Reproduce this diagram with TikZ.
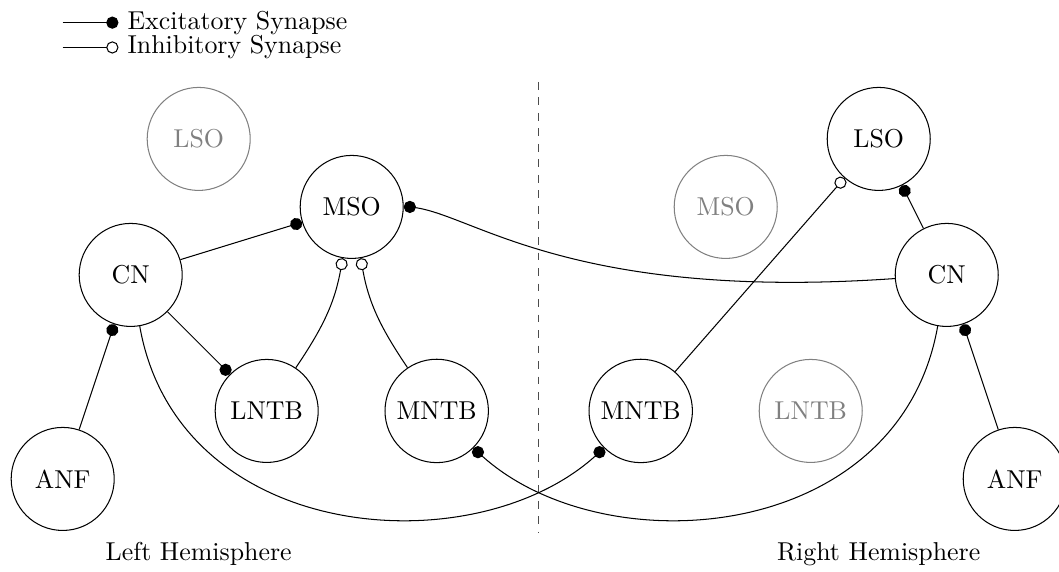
\documentclass[tikz,border=0pt]{standalone}
\usepackage{amsmath,amssymb}
\usepackage{tikz}
\usetikzlibrary{arrows}

\begin{document}
\begin{tikzpicture}[x=0.924cm,y=0.924cm,
  neuron/.style={shape=circle,draw=black,minimum size=1.4cm},
  faded/.style={shape=circle,draw=gray,text=gray,minimum size=1.4cm},
  exc/.style={-*},
  inh/.style={-o}]
\useasboundingbox (-1.922,4.043) rectangle (13.651,-4.355);
% legend
\draw[exc] (-1,3.71) -- (-0.18,3.71) node[right] (exclabel) {Excitatory Synapse};
\draw[inh] (-1,3.345) -- (-0.18,3.345) node[right] (inhlabel) {Inhibitory Synapse};
% left hemisphere
\node[neuron] (CNL) at (0,0) {CN};
\node[faded] (LSOL) at (1,2) {LSO};
\node[neuron] (MSOL) at (3.25,1) {MSO};
\node[neuron] (LNTBL) at (2,-2) {LNTB};
\node[neuron] (MNTBL) at (4.5,-2) {MNTB};
\node[neuron] (ANFL) at (-1,-3) {ANF};
% right hemisphere
\node[neuron] (CNR) at (12,0) {CN};
\node[neuron] (LSOR) at (11,2) {LSO};
\node[faded] (MSOR) at (8.75,1) {MSO};
\node[neuron] (MNTBR) at (7.5,-2) {MNTB};
\node[faded] (LNTBR) at (10,-2) {LNTB};
\node[neuron] (ANFR) at (13,-3) {ANF};
\draw[dashed,black!70] (6,2.84) -- (6,-3.8);
\node (lefthemi) at (1,-4.1) {Left Hemisphere};
\node (righthemi) at (11,-4.1) {Right Hemisphere};
% synapses
\draw[exc] (ANFL) -- (CNL);
\draw[exc] (CNL) -- (MSOL);
\draw[exc] (CNL) -- (LNTBL);
\draw[inh] (LNTBL) to[out=56,in=-100] (MSOL);
\draw[inh] (MNTBL) to[out=124,in=-80] (MSOL);
\draw[exc] (CNR) to[out=184,in=0,out looseness=1.75,in looseness=0.32] (MSOL);
\draw[exc] (CNL) to[out=-80,in=-135,out looseness=1.2,in looseness=0.9] (MNTBR);
\draw[exc] (CNR) to[out=-100,in=-45,out looseness=1.2,in looseness=0.9] (MNTBL);
\draw[exc] (ANFR) -- (CNR);
\draw[exc] (CNR) -- (LSOR);
\draw[inh] (MNTBR) -- (LSOR);
\end{tikzpicture}
\end{document}
